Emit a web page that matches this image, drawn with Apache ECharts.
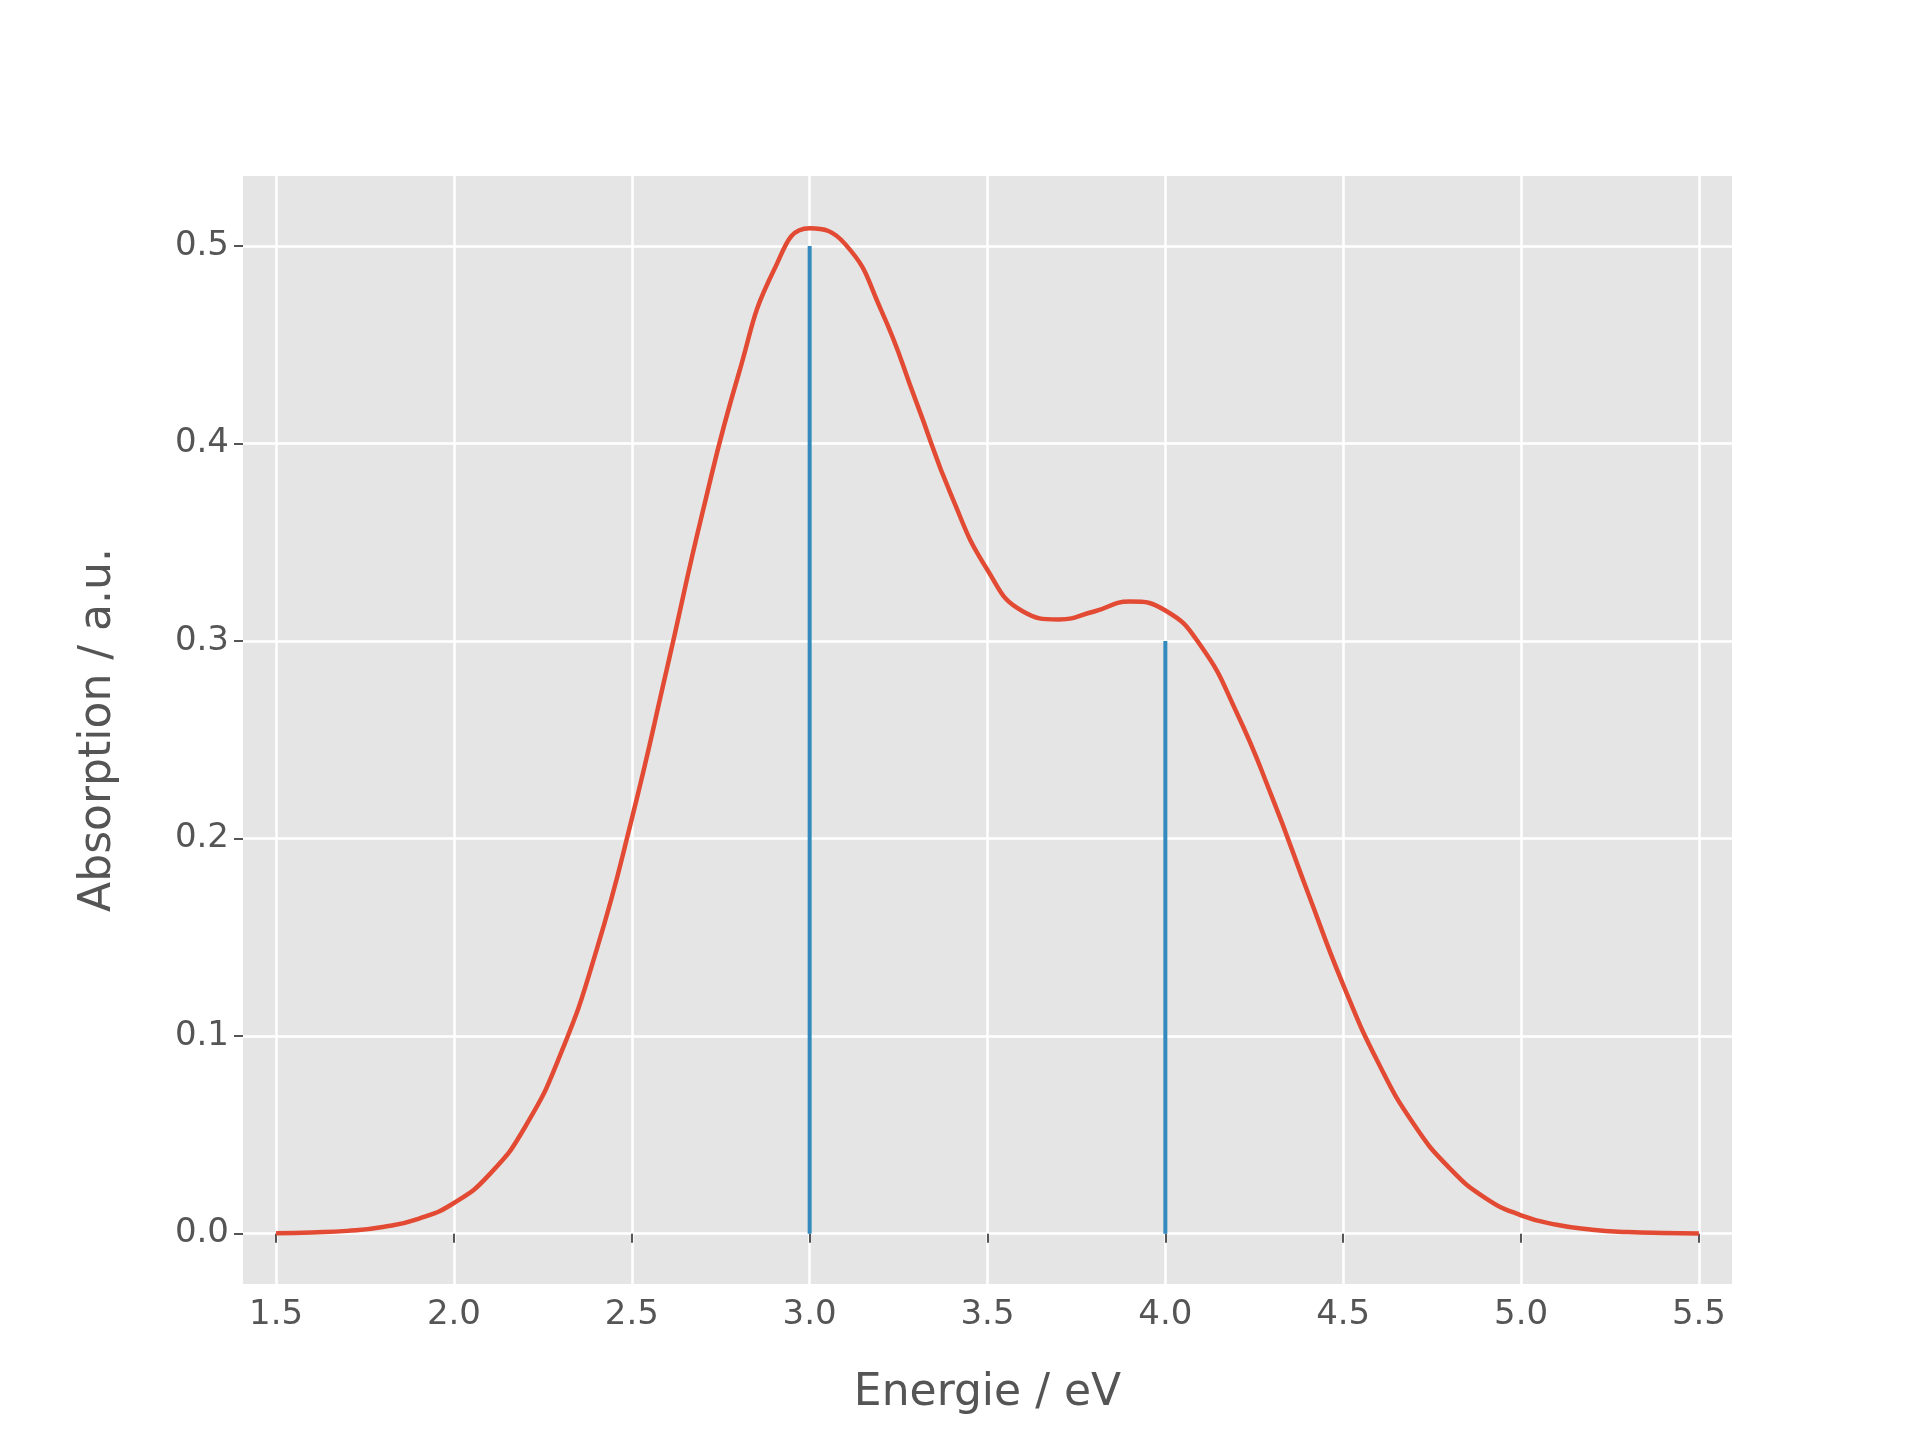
<!DOCTYPE html>
<html><head><meta charset="utf-8">
<script src="https://cdn.jsdelivr.net/npm/echarts@6/dist/echarts.min.js"></script>
<style>html,body{margin:0;background:#fff}#c{width:1920px;height:1440px}</style>
</head><body><div id="c"></div>
<script>
const energies = [1.5,1.6,1.7,1.8,1.9,2.0,2.1,2.2,2.3,2.4,2.5,2.6,2.7,2.8,2.9,3.0,3.1,3.2,3.3,3.4,3.5,3.6,3.7,3.8,3.9,4.0,4.1,4.2,4.3,4.4,4.5,4.6,4.7,4.8,4.9,5.0,5.1,5.2,5.3,5.4,5.5];
const absorption = [0.0002,0.0006,0.0014,0.0034,0.0075,0.0155,0.030,0.054,0.091,0.143,0.210,0.287,0.366,0.435,0.488,0.509,0.501,0.468,0.421,0.373,0.336,0.315,0.311,0.315,0.320,0.3155,0.2975,0.264,0.221,0.173,0.126,0.086,0.055,0.033,0.018,0.0093,0.0045,0.002,0.0008,0.0003,0.0001];
const stickEnergies = [3.0, 4.0];
const stickHeights = [0.5, 0.3];
const xTicks = ['1.5','2.0','2.5','3.0','3.5','4.0','4.5','5.0','5.5'];
const yTicks = ['0.0','0.1','0.2','0.3','0.4','0.5'];

const chart = echarts.init(document.getElementById('c'), null, {renderer:'canvas'});
const txt = '#555555';
const sticks = stickEnergies.map((e,i)=>({
  type:'line', data:[[e,0],[e,stickHeights[i]]], symbol:'none',
  lineStyle:{color:'#348ABD', width:4}, z:2, silent:true
}));
const xv = xTicks.map(Number), yv = yTicks.map(Number);
chart.setOption({
  animation:false,
  backgroundColor:'#ffffff',
  grid:{left:243, right:188, top:176, bottom:156, show:true, backgroundColor:'#E5E5E5', borderWidth:0},
  xAxis:{type:'value', min:1.407, max:5.593,
    name:'Energie / eV', nameLocation:'middle', nameGap:88,
    nameTextStyle:{color:txt, fontSize:44, fontFamily:'DejaVu Sans'},
    axisLine:{show:false},
    axisTick:{show:true, length:9, lineStyle:{color:txt, width:2}, customValues:xv},
    axisLabel:{color:txt, fontSize:34, fontFamily:'DejaVu Sans', margin:14, customValues:xv,
      formatter:v=>v.toFixed(1)},
    splitLine:{show:true, lineStyle:{color:'#ffffff', width:2.5}, customValues:xv}
  },
  yAxis:{type:'value', min:-0.0255, max:0.5355,
    name:'Absorption / a.u.', nameLocation:'middle', nameGap:122,
    nameTextStyle:{color:txt, fontSize:44, fontFamily:'DejaVu Sans'},
    axisLine:{show:false},
    axisTick:{show:true, length:9, lineStyle:{color:txt, width:2}, customValues:yv},
    axisLabel:{color:txt, fontSize:34, fontFamily:'DejaVu Sans', margin:14, customValues:yv,
      formatter:v=>v.toFixed(1)},
    splitLine:{show:true, lineStyle:{color:'#ffffff', width:2.5}, customValues:yv}
  },
  series:[
    ...sticks,
    {type:'line', data:energies.map((e,i)=>[e,absorption[i]]), smooth:0.5, symbol:'none',
     lineStyle:{color:'#E24A33', width:4.5}, z:3, silent:true}
  ]
});
</script></body></html>
